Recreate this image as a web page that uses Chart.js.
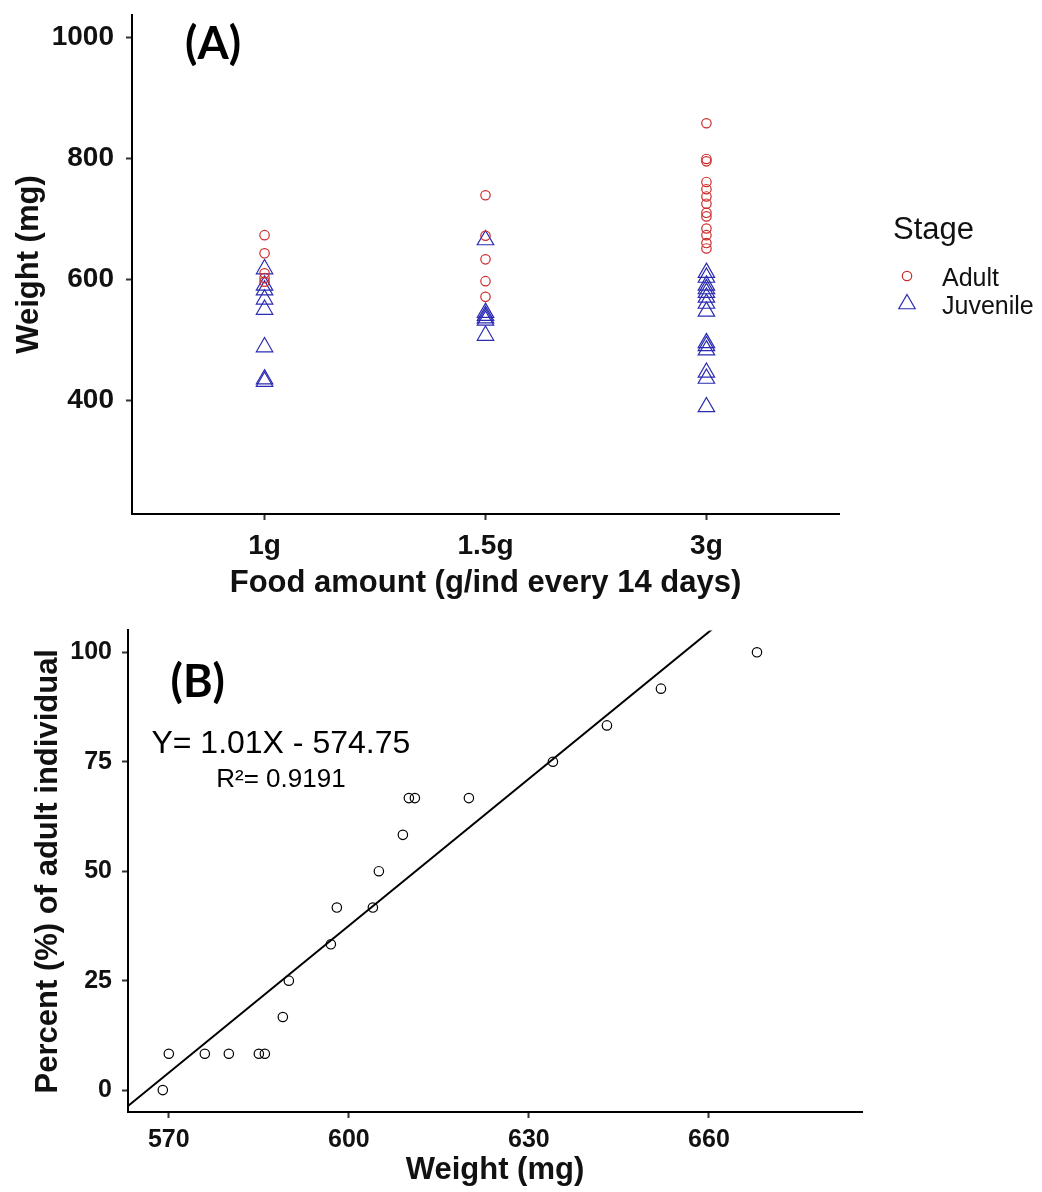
<!DOCTYPE html>
<html>
<head>
<meta charset="utf-8">
<title>Weight by food amount and stage</title>
<script src="https://cdn.jsdelivr.net/npm/chart.js@4.4.1/dist/chart.umd.min.js"></script>
<style>
  html, body { margin:0; padding:0; background:#fff; }
  #wrap { position:relative; width:1042px; height:1192px; }
  canvas { position:absolute; left:0; }
  #chartA { top:0; }
  #chartB { top:602px; }
</style>
</head>
<body>
<div id="wrap">
  <canvas id="chartA" width="1042" height="602"></canvas>
  <canvas id="chartB" width="1042" height="590"></canvas>
</div>
<script>
/* Panel A data: weight (mg) per food level, split by stage */
const foodLevels = ["1g", "1.5g", "3g"];
const adultWeights = [
  [673, 643, 610, 602, 596],
  [739, 672, 633, 597, 571],
  [858, 799, 795, 761, 749, 737, 725, 710, 704, 684, 673, 660, 651]
];
const juvenileWeights = [
  [617, 590, 582, 567, 550, 488, 435, 431],
  [665, 545, 540, 536, 532, 507],
  [611, 603, 590, 584, 578, 570, 560, 547, 495, 490, 483, 446, 436, 389]
];
const weightTicksA = [400, 600, 800, 1000];

/* Panel B data: mean weight vs % adult */
const meanWeight = [569, 570, 576, 580, 585, 586, 589, 590, 597, 598, 604, 605, 609, 610, 611, 620, 634, 643, 652, 668];
const pctAdult   = [0, 8.3, 8.3, 8.3, 8.3, 8.3, 16.7, 25, 33.3, 41.7, 41.7, 50, 58.3, 66.7, 66.7, 66.7, 75, 83.3, 91.7, 100];
const weightTicksB = [570, 600, 630, 660];
const pctTicks = [0, 25, 50, 75, 100];

/* Helpers */
const SANS = '"Liberation Sans", Arial, sans-serif';
const RED = "#cd2a2a", BLUE = "#2b2bb3", INK = "#111";
const toPoints = groups => groups.flatMap((vals, i) => vals.map(v => ({x: i, y: v})));

function leastSquares(xs, ys){
  const n = xs.length;
  const mx = xs.reduce((a, b) => a + b, 0) / n;
  const my = ys.reduce((a, b) => a + b, 0) / n;
  let sxy = 0, sxx = 0;
  xs.forEach((x, i) => { sxy += (x - mx) * (ys[i] - my); sxx += (x - mx) ** 2; });
  const slope = sxy / sxx;
  return { slope, intercept: my - slope * mx };
}

function drawSymbol(ctx, style, cx, cy, r, color, lw){
  ctx.beginPath();
  if (style === "triangle") {
    const s = Math.sin(Math.PI / 3) * r;
    ctx.moveTo(cx, cy - r);
    ctx.lineTo(cx + s, cy + r / 2);
    ctx.lineTo(cx - s, cy + r / 2);
    ctx.closePath();
  } else {
    ctx.arc(cx, cy, r, 0, Math.PI * 2);
  }
  ctx.strokeStyle = color;
  ctx.lineWidth = lw;
  ctx.stroke();
}

/* text placed at data coordinates, like annotate() */
const notesPlugin = {
  id: "notes",
  afterDatasetsDraw(chart, args, opts){
    const {ctx, scales: {x, y}} = chart;
    ctx.save();
    ctx.textAlign = "left";
    ctx.textBaseline = "alphabetic";
    (opts.items || []).forEach(n => {
      ctx.font = n.font;
      ctx.fillStyle = n.color || "#000";
      ctx.fillText(n.text, x.getPixelForValue(n.x), y.getPixelForValue(n.y));
    });
    ctx.restore();
  }
};

/* ggplot-like legend on the right of panel A */
const stageLegend = {
  id: "stageLegend",
  afterDraw(chart, args, o){
    const {ctx, chartArea} = chart;
    const x0 = chartArea.right + o.dx;
    const yMid = (chartArea.top + chartArea.bottom) / 2;
    ctx.save();
    ctx.fillStyle = INK;
    ctx.textAlign = "left";
    ctx.textBaseline = "alphabetic";
    ctx.font = o.titleFont;
    ctx.fillText(o.title, x0, yMid + o.titleDy);
    chart.data.datasets.forEach((ds, i) => {
      const cy = yMid + o.firstKeyDy + i * o.keyStep;
      drawSymbol(ctx, ds.pointStyle, x0 + o.keyDx, cy, ds.pointRadius, ds.pointBorderColor, ds.pointBorderWidth);
      ctx.fillStyle = INK;
      ctx.font = o.labelFont;
      ctx.fillText(ds.label, x0 + o.labelDx, cy + o.labelDy);
    });
    ctx.restore();
  }
};

// shared look of all four axes (ggplot theme_classic-ish)
function axisStyle(size, pad, label){
  return {
    bounds: "data",
    ticks: { font: {family: SANS, size: size, weight: "bold"}, color: INK, padding: pad, maxRotation: 0,
             callback: label || (v => String(v)) },
    grid: { drawOnChartArea: false, drawTicks: true, tickLength: 6, tickColor: "#333", tickWidth: 2 },
    border: { display: true, color: "#000", width: 2 }
  };
}
const titleFont = {family: SANS, size: 31, weight: "bold"};

/* Panel A */
new Chart(document.getElementById("chartA"), {
  type: "scatter",
  data: {
    datasets: [
      { label: "Adult", data: toPoints(adultWeights), pointStyle: "circle", pointRadius: 4.7,
        pointBorderColor: RED, pointBackgroundColor: "rgba(0,0,0,0)", pointBorderWidth: 1.2 },
      { label: "Juvenile", data: toPoints(juvenileWeights), pointStyle: "triangle", pointRadius: 9.5,
        pointBorderColor: BLUE, pointBackgroundColor: "rgba(0,0,0,0)", pointBorderWidth: 1.2 }
    ]
  },
  options: {
    responsive: false, animation: false, events: [],
    layout: { autoPadding: false, padding: {left: 0, top: 15, right: 203, bottom: 0} },
    plugins: {
      legend: {display: false}, tooltip: {enabled: false},
      notes: { items: [ {text: "(A)", x: -0.36, y: 965, font: 'bold 45px Lato, "Open Sans", sans-serif'} ] },
      stageLegend: { title: "Stage", titleFont: "31px " + SANS, labelFont: "25px " + SANS,
        dx: 54, titleDy: -26, firstKeyDy: 11.5, keyStep: 28, keyDx: 14, labelDx: 49, labelDy: 9.5 }
    },
    scales: {
      x: Object.assign(axisStyle(28, 9, v => foodLevels[v] ?? ""), {
        type: "linear", min: -0.6, max: 2.6,
        afterBuildTicks: s => { s.ticks = foodLevels.map((_, i) => ({value: i})); },
        afterFit: s => { s.height = 88; s.paddingLeft = 0; s.paddingRight = 0; },
        title: { display: true, text: "Food amount (g/ind every 14 days)", font: titleFont, color: INK, padding: {top: 0, bottom: 0} }
      }),
      y: Object.assign(axisStyle(28, 12), {
        min: 212, max: 1037,
        afterBuildTicks: s => { s.ticks = weightTicksA.map(v => ({value: v})); },
        afterFit: s => { s.width = 132; s.paddingTop = 0; s.paddingBottom = 0; },
        title: { display: true, text: "Weight (mg)", font: titleFont, color: INK, padding: {top: 10.5, bottom: 0} }
      })
    }
  },
  plugins: [notesPlugin, stageLegend]
});

/* Panel B */
const xLimB = [563.2, 685.5];
const fit = leastSquares(meanWeight, pctAdult);
const fitAt = x => fit.intercept + fit.slope * x;

new Chart(document.getElementById("chartB"), {
  type: "scatter",
  data: {
    datasets: [
      { label: "Observed", data: meanWeight.map((w, i) => ({x: w, y: pctAdult[i]})), pointStyle: "circle",
        pointRadius: 4.7, pointBorderColor: "#000", pointBackgroundColor: "rgba(0,0,0,0)", pointBorderWidth: 1.2 },
      { label: "Fit", data: xLimB.map(x => ({x: x, y: fitAt(x)})), showLine: true,
        borderColor: "#000", borderWidth: 2, pointRadius: 0 }
    ]
  },
  options: {
    responsive: false, animation: false, events: [],
    layout: { autoPadding: false, padding: {left: 0, top: 28.4, right: 180, bottom: 0} },
    plugins: {
      legend: {display: false}, tooltip: {enabled: false},
      notes: { items: [
        {text: "(B)", x: 570.3, y: 89.9, font: 'bold 45px Lato, "Open Sans", sans-serif'},
        {text: "Y= 1.01X - 574.75", x: 567.1, y: 76.9, font: "32px " + SANS},
        {text: "R²= 0.9191", x: 577.9, y: 69.2, font: "26px " + SANS}
      ] }
    },
    scales: {
      x: Object.assign(axisStyle(25, 7), {
        type: "linear", min: xLimB[0], max: xLimB[1],
        afterBuildTicks: s => { s.ticks = weightTicksB.map(v => ({value: v})); },
        afterFit: s => { s.height = 80; s.paddingLeft = 0; s.paddingRight = 0; },
        title: { display: true, text: "Weight (mg)", font: titleFont, color: INK, padding: {top: 0, bottom: 3.4} }
      }),
      y: Object.assign(axisStyle(25, 10), {
        min: -5, max: 105,
        afterBuildTicks: s => { s.ticks = pctTicks.map(v => ({value: v})); },
        afterFit: s => { s.width = 128; s.paddingTop = 0; s.paddingBottom = 0; },
        title: { display: true, text: "Percent (%) of adult individual", font: titleFont, color: INK, padding: {top: 30, bottom: 0} }
      })
    }
  },
  plugins: [notesPlugin]
});
</script>
</body>
</html>
